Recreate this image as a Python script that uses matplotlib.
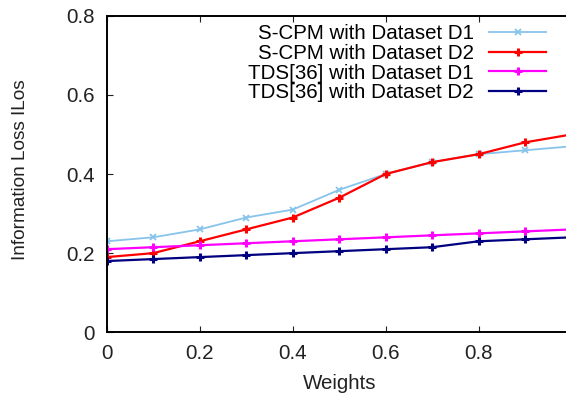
import numpy as np
import matplotlib.pyplot as plt

plt.rcParams['font.family'] = ['Liberation Sans', 'DejaVu Sans']

weights = [0.0, 0.1, 0.2, 0.3, 0.4, 0.5, 0.6, 0.7, 0.8, 0.9, 1.0]
scpm_d1 = [0.23, 0.24, 0.26, 0.29, 0.31, 0.36, 0.40, 0.43, 0.45, 0.46, 0.47]
scpm_d2 = [0.19, 0.20, 0.23, 0.26, 0.29, 0.34, 0.40, 0.43, 0.45, 0.48, 0.50]
tds_d1 = [0.21, 0.215, 0.22, 0.225, 0.23, 0.235, 0.24, 0.245, 0.25, 0.255, 0.26]
tds_d2 = [0.18, 0.185, 0.19, 0.195, 0.20, 0.205, 0.21, 0.215, 0.23, 0.235, 0.24]

labels = ['S-CPM with Dataset D1', 'S-CPM with Dataset D2',
          'TDS[36] with Dataset D1', 'TDS[36] with Dataset D2']
xticks = [0, 0.2, 0.4, 0.6, 0.8]
yticks = [0, 0.2, 0.4, 0.6, 0.8]

fs = 14.8
fig = plt.figure(figsize=(5.66, 3.93), dpi=100)
# right edge of the axes sits just past the image, like the cropped original
ax = fig.add_axes([106.7 / 566, 1 - 332.3 / 393, 465 / 566, (332.3 - 15.7) / 393])

ax.plot(weights, scpm_d1, color='#87c4ec', lw=1.3, marker='x', ms=5, mew=1.3, label=labels[0])
ax.plot(weights, scpm_d2, color='#ff0000', lw=1.6, marker='+', ms=6, mew=2.2, label=labels[1])
ax.plot(weights, tds_d1, color='#ff00ff', lw=1.6, marker='+', ms=6, mew=2.2, label=labels[2])
ax.plot(weights, tds_d2, color='#000080', lw=1.6, marker='+', ms=6, mew=2.2, label=labels[3])

ax.set_xlim(0, 1)
ax.set_ylim(0, 0.8)
ax.set_xticks(xticks)
ax.set_xticklabels(['0', '0.2', '0.4', '0.6', '0.8'])
ax.set_yticks(yticks)
ax.set_yticklabels(['0', '0.2', '0.4', '0.6', '0.8'])
ax.tick_params(direction='in', length=4, width=0.8, top=True, right=True,
               labelsize=fs, colors='#222222')
ax.tick_params(axis='y', pad=8.5)
ax.tick_params(axis='x', pad=8.7)
for s in ax.spines.values():
    s.set_linewidth(1.4)

ax.set_xlabel('Weights', fontsize=fs, color='#222222')
ax.set_ylabel('Information Loss ILos', fontsize=13.7, color='#222222')
ax.yaxis.set_label_coords(-0.168, 0.513)
ax.xaxis.set_label_coords(0.5, -0.133)

ax.legend(loc='upper right', bbox_to_anchor=(546 / 566, 1 - 24 / 393),
          bbox_transform=fig.transFigure, frameon=False, markerfirst=False,
          fontsize=fs, borderpad=0, borderaxespad=0, handlelength=2.75,
          handletextpad=0.75, labelspacing=0.04, numpoints=1)

fig.savefig('out.png', dpi=100)
